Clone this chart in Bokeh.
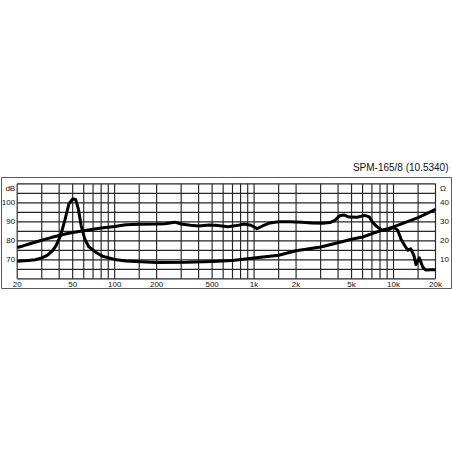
from bokeh.plotting import figure
from bokeh.models import Range1d
from bokeh.core.properties import value
from bokeh.embed import file_html
from bokeh.resources import INLINE

# ---- data ----
spl_freq = [20, 22, 25, 30, 35, 40, 45, 50, 60, 70, 80, 100, 120, 150, 200, 230, 270, 300,
            350, 400, 480, 550, 650, 750, 850, 950, 1050, 1150, 1300, 1500, 1800, 2200,
            2600, 3200, 3500, 3800, 4100, 4400, 4800, 5500, 6200, 6700, 7100, 7600, 8300,
            9200, 10000, 10700, 11300, 12200, 12700, 13300, 14000, 14500, 15300, 16200,
            17000, 18500, 20000]
spl_db = [76.5, 77.3, 78.6, 80.3, 81.7, 82.8, 83.7, 84.4, 85.3, 86.1, 86.7, 87.5, 88.4,
          88.7, 88.8, 89.0, 89.8, 88.8, 88.2, 87.8, 88.3, 88.0, 87.4, 88.0, 88.8, 88.2,
          86.4, 87.8, 89.4, 90.0, 90.0, 89.8, 89.4, 89.3, 89.6, 90.8, 93.2, 93.6, 92.5,
          92.4, 93.4, 92.6, 89.6, 87.5, 85.5, 85.8, 87.2, 85.6, 81.0, 76.8, 75.0, 75.8,
          72.3, 67.5, 71.0, 66.2, 64.6, 64.8, 64.7]

imp_freq = [20, 24, 27, 30, 33, 36, 38, 41, 44, 47, 50, 52.5, 55, 57.5, 61, 65, 73, 83,
            100, 120, 200, 330, 500, 700, 1000, 1500, 2000, 3000, 4000, 5000, 6000, 8000,
            10000, 15000, 20000]
imp_ohm = [9.2, 9.6, 10.0, 11.0, 12.5, 15.0, 17.5, 22.8, 31.0, 39.5, 42.0, 41.8, 36.5,
           28.0, 21.0, 17.0, 14.0, 11.7, 10.2, 9.4, 8.6, 8.7, 9.1, 9.6, 11.0, 12.4, 14.8,
           16.7, 19.0, 20.8, 22.0, 25.2, 27.3, 32.2, 36.5]

x_grid_freqs = [20, 30, 40, 50, 60, 70, 80, 90, 100, 150, 200, 300, 400, 500, 600, 700,
                800, 900, 1000, 1500, 2000, 3000, 4000, 5000, 6000, 7000, 8000, 9000,
                10000, 15000, 20000]
x_label_freqs = [20, 50, 100, 200, 500, 1000, 2000, 5000, 10000, 20000]
x_label_text = ["20", "50", "100", "200", "500", "1k", "2k", "5k", "10k", "20k"]
db_grid = [60, 65, 70, 75, 80, 85, 90, 95, 100, 105, 110]
db_ticks = [70, 80, 90, 100]
db_unit = ("dB", 107.5)
ohm_ticks = [10, 20, 30, 40]
ohm_unit = ("\u03a9", 47.5)
title_text = "SPM-165/8 (10.5340)"

# ---- page geometry (pixels) ----
TOP = 150                 # figure's top on the page
W = 452
FRAME_L, FRAME_R = 1, 451          # outer box
FRAME_T, FRAME_B = 177, 288
INNER_L, INNER_R = 16.7, 435.0     # chart area 20 Hz .. 20 kHz
INNER_T, INNER_B = 183.3, 278.3    # chart area 110 dB .. 60 dB

MT = FRAME_T - TOP
MB = 1
H = MT + (FRAME_B - FRAME_T) + MB

f_lo, f_hi = x_grid_freqs[0], x_grid_freqs[-1]
d_lo, d_hi = db_grid[0], db_grid[-1]
px_per_dec = (INNER_R - INNER_L) / 3.0
px_per_db = (INNER_B - INNER_T) / float(d_hi - d_lo)
x_start = f_lo / 10 ** ((INNER_L - FRAME_L) / px_per_dec)
x_end = f_hi * 10 ** ((FRAME_R - INNER_R) / px_per_dec)
y_top = d_hi + (INNER_T - FRAME_T) / px_per_db
y_bot = d_lo - (FRAME_B - INNER_B) / px_per_db
OHM_SHIFT = 60            # 0 ohm sits on the 60 dB line, 10 dB per 10 ohm

FONT = "Liberation Sans"
GRID_C = "#262626"
TXT_C = "#111111"

p = figure(width=W, height=H, x_axis_type="log", output_backend="svg",
           toolbar_location=None, x_range=Range1d(x_start, x_end),
           y_range=Range1d(y_bot, y_top), x_axis_location=None, y_axis_location=None,
           min_border_left=FRAME_L, min_border_right=W - FRAME_R,
           min_border_top=MT, min_border_bottom=MB, title=title_text)
p.margin = (TOP, 0, 0, 0)
p.extra_y_ranges = {"ohm": Range1d(y_bot - OHM_SHIFT, y_top - OHM_SHIFT)}
p.grid.grid_line_color = None
p.background_fill_color = "white"
p.border_fill_color = "white"
p.outline_line_color = "#5a5a5a"
p.outline_line_width = 1

p.title.align = "right"
p.title.offset = 3
p.title.standoff = 9
p.title.text_font = FONT
p.title.text_font_size = "10px"
p.title.text_font_style = "normal"
p.title.text_color = TXT_C

# chart grid (20 Hz..20 kHz, 60..110 dB)
nx, ny = len(x_grid_freqs), len(db_grid)
p.segment(x0=x_grid_freqs, y0=[d_lo] * nx, x1=x_grid_freqs, y1=[d_hi] * nx,
          line_color=GRID_C, line_width=1.15)
p.segment(x0=[f_lo] * ny, y0=db_grid, x1=[f_hi] * ny, y1=db_grid,
          line_color=GRID_C, line_width=1.15)

# tick labels
txt = dict(text_font=value(FONT), text_font_size=value("8px"), text_color=TXT_C)
p.text(x=x_label_freqs, y=[d_lo] * len(x_label_freqs), text=x_label_text,
       y_offset=5.4, text_align="center", text_baseline="middle", **txt)
p.text(x=[f_lo] * (len(db_ticks) + 1), y=db_ticks + [db_unit[1]],
       text=[str(t) for t in db_ticks] + [db_unit[0]],
       x_offset=-2, text_align="right", text_baseline="middle", **txt)
p.text(x=[f_hi] * (len(ohm_ticks) + 1), y=ohm_ticks + [ohm_unit[1]],
       text=[str(t) for t in ohm_ticks] + [ohm_unit[0]], y_range_name="ohm",
       x_offset=4.5, text_align="left", text_baseline="middle", **txt)

# curves
p.line(spl_freq, spl_db, line_color="black", line_width=3, line_join="round")
p.line(imp_freq, imp_ohm, y_range_name="ohm", line_color="black", line_width=3,
       line_join="round")

open("out.html", "w").write(file_html(p, INLINE))
